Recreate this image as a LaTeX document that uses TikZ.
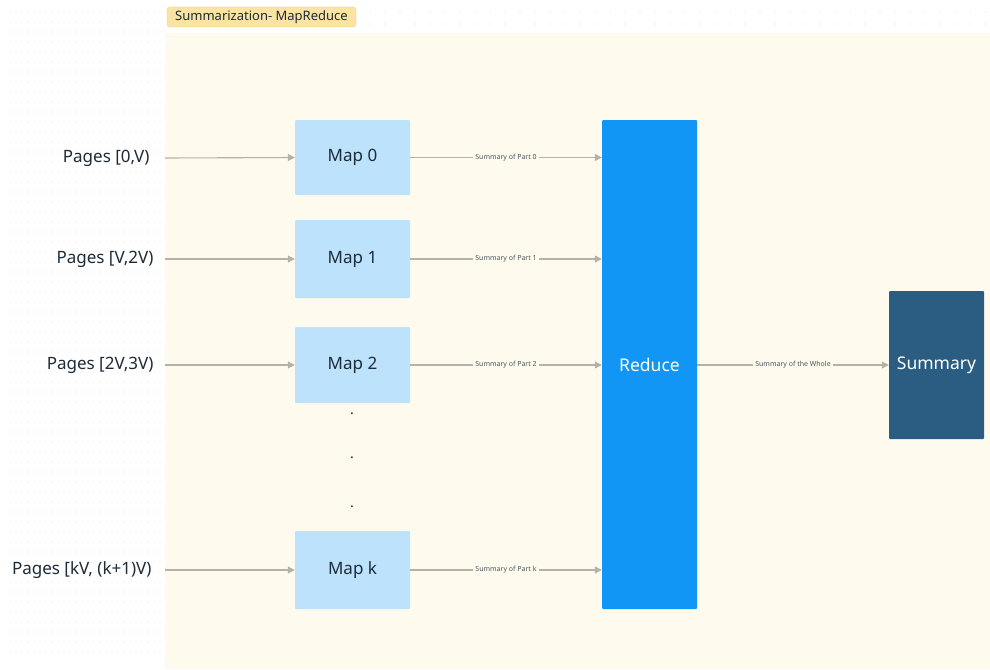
\documentclass[tikz,border=0pt]{standalone}
\usepackage{fontspec}
\setmainfont{Noto Sans}
\usetikzlibrary{arrows.meta}
\definecolor{cream}{HTML}{FEFBEE}
\definecolor{tagfill}{HTML}{FBE3A3}
\definecolor{tagline}{HTML}{F3D27E}
\definecolor{mapfill}{HTML}{BDE2FC}
\definecolor{redfill}{HTML}{1196F5}
\definecolor{sumfill}{HTML}{2B5D82}
\definecolor{arrowc}{HTML}{B4B1A8}
\definecolor{txt}{HTML}{1E2B38}
\definecolor{gridc}{HTML}{E4E4E4}
\tikzset{
  mapbox/.style={fill=mapfill, draw=none, rounded corners=1pt, minimum width=115pt, inner sep=0pt, font=\fontsize{17}{20}\selectfont, text=txt},
  bigbox/.style={draw=none, rounded corners=1pt, inner sep=0pt, text=white, font=\fontsize{17.5}{20}\selectfont},
  pagelbl/.style={anchor=east, font=\fontsize{17}{20}\selectfont, text=txt},
  conn/.style={draw=arrowc, line width=1.1pt, -{Triangle[length=7pt,width=7pt]}},
  clbl/.style={fill=cream, inner sep=2pt, font=\fontsize{7}{8}\selectfont, text=txt!80},
  dotn/.style={font=\fontsize{14}{16}\selectfont, text=txt}
}
\begin{document}
\begin{tikzpicture}[x=1pt,y=-1pt]
\useasboundingbox (0,0) rectangle (990,669);
\fill[white] (0,0) rectangle (990,669);
% faint background grid dots
\foreach \yy in {12,22,...,660} {
  \foreach \xx in {10,16,...,160} { \fill[gridc] (\xx,\yy) circle (0.6pt); }
}
\foreach \xx in {370,385,...,985} { \fill[gridc] (\xx,12) circle (0.6pt); \fill[gridc] (\xx,24) circle (0.6pt);}
% frame
\fill[cream] (165,33) rectangle (990,669);
\node[fill=tagfill, draw=tagline, line width=0.4pt, rounded corners=3pt, minimum width=189pt, minimum height=20pt, inner sep=0pt, font=\fontsize{13}{15}\selectfont, text=txt] (tag) at (261.5,17) {Summarization- MapReduce};

% maps
\node[mapbox, minimum height=75pt] (m0) at (352.5,157.5) {Map 0};
\node[mapbox, minimum height=78pt] (m1) at (352.5,259) {Map 1};
\node[mapbox, minimum height=76pt] (m2) at (352.5,365) {Map 2};
\node[mapbox, minimum height=78pt] (mk) at (352.5,570) {Map k};
\node[bigbox, fill=redfill, minimum width=95pt, minimum height=489pt] (red) at (649.5,364.5) {Reduce};
\node[bigbox, fill=sumfill, minimum width=95pt, minimum height=148pt] (sum) at (936.5,365) {Summary};

% dots
\node[dotn] (d1) at (352,414) {.};
\node[dotn] (d2) at (352,458) {.};
\node[dotn] (d3) at (352,507) {.};

% page labels
\node[pagelbl] (p0) at (153,158) {Pages [0,V)};
\node[pagelbl] (p1) at (157,259) {Pages [V,2V)};
\node[pagelbl] (p2) at (157,365) {Pages [2V,3V)};
\node[pagelbl] (pk) at (155,570) {Pages [kV, (k+1)V)};
\coordinate (s0) at (165,158);
\coordinate (s1) at (165,259);
\coordinate (s2) at (165,365);
\coordinate (sk) at (165,570);

\draw[conn] (s0) -- (m0.west);
\draw[conn] (s1) -- (m1.west);
\draw[conn] (s2) -- (m2.west);
\draw[conn] (sk) -- (mk.west);

\draw[conn] (m0.east) -- (m0.east -| red.west) node[clbl, midway] {Summary of Part 0};
\draw[conn] (m1.east) -- (m1.east -| red.west) node[clbl, midway] {Summary of Part 1};
\draw[conn] (m2.east) -- (m2.east -| red.west) node[clbl, midway] {Summary of Part 2};
\draw[conn] (mk.east) -- (mk.east -| red.west) node[clbl, midway] {Summary of Part k};
\draw[conn] (red.east |- sum.west) -- (sum.west) node[clbl, midway] {Summary of the Whole};
\end{tikzpicture}
\end{document}
